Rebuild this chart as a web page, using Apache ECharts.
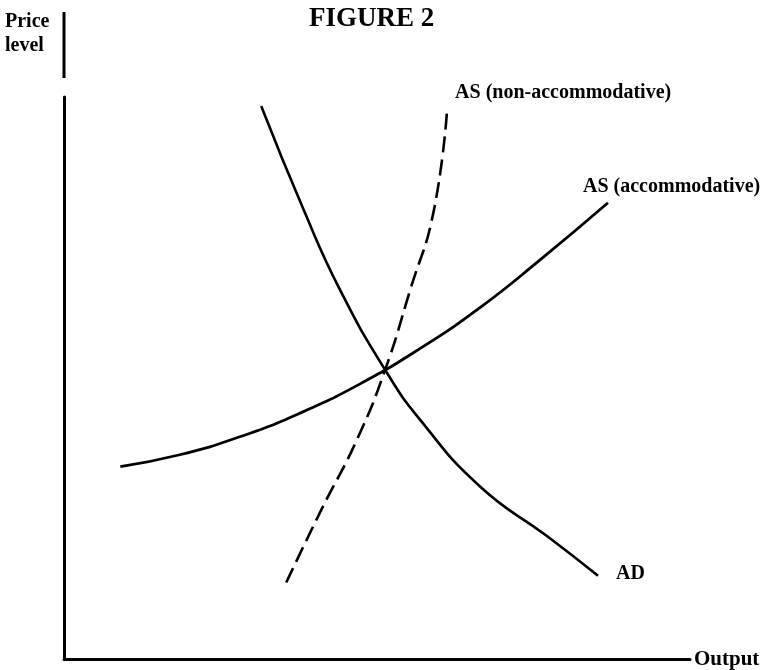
<!DOCTYPE html>
<html>
<head>
<meta charset="utf-8">
<script src="https://cdn.jsdelivr.net/npm/echarts@6/dist/echarts.min.js"></script>
<style>html,body{margin:0;padding:0;background:#fff;}#c{width:764px;height:670px;}</style>
</head>
<body>
<div id="c"></div>
<script>
// Data (output on x, price level on y, arbitrary 0-100 units)
const asAccommodative = [[9,34.3],[18.5,36.4],[28.1,39.6],[37.7,43.8],[47.3,49.0],[56.9,55.3],[66.5,62.6],[76.0,71.0],[86.9,81.2]];
const adCurve = [[31.5,98.4],[38.3,79.9],[44.1,65.7],[51.3,51.5],[56.9,42.6],[66.5,30.7],[77.2,21.9],[85.3,14.9]];
const asNonAccommodative = [[35.5,13.7],[41.1,26.6],[46.8,39.1],[51.3,51.5],[55.3,65.7],[59.0,79.4],[61.2,97.7]];
const seriesNames = ['AS (accommodative)', 'AD', 'AS (non-accommodative)'];
const titleText = 'FIGURE 2';
const xName = 'Output';
const yName = 'Price\nlevel';

const serif = '"Liberation Serif", "DejaVu Serif", serif';
const labelFont = {color: '#000', fontFamily: serif, fontWeight: 'bold', fontSize: 20};
function endLabel(text, offset) {
  return Object.assign({show: true, formatter: text, offset: offset}, labelFont);
}
const chart = echarts.init(document.getElementById('c'));
chart.setOption({
  animation: false,
  backgroundColor: '#fff',
  title: {text: titleText, left: 304, top: 1, textStyle: {fontFamily: serif, fontWeight: 'bold', fontSize: 27, color: '#000'}},
  grid: {left: 64, right: 74, top: 97, bottom: 10},
  xAxis: {type: 'value', min: 0, max: 100, name: xName, nameLocation: 'end', nameGap: 4,
    nameTextStyle: {fontFamily: serif, fontWeight: 'bold', fontSize: 21, color: '#000'},
    axisLine: {show: true, lineStyle: {color: '#000', width: 3}}, axisTick: {show: false}, axisLabel: {show: false}, splitLine: {show: false}},
  yAxis: {type: 'value', min: 0, max: 100,
    axisLine: {show: true, lineStyle: {color: '#000', width: 3}}, axisTick: {show: false}, axisLabel: {show: false}, splitLine: {show: false}},
  graphic: [
    {type: 'text', left: 5, top: 10, style: {text: yName, font: 'bold 20px ' + serif, fill: '#000', lineHeight: 24}},
    {type: 'line', shape: {x1: 64, y1: 12, x2: 64, y2: 78}, style: {stroke: '#000', lineWidth: 3}}
  ],
  series: [
    {name: seriesNames[0], type: 'line', data: asAccommodative, smooth: true, symbol: 'none',
      lineStyle: {color: '#000', width: 2.8}, endLabel: endLabel(seriesNames[0], [-33, -16])},
    {name: seriesNames[1], type: 'line', data: adCurve, smooth: true, symbol: 'none',
      lineStyle: {color: '#000', width: 2.6}, endLabel: endLabel(seriesNames[1], [10, -2])},
    {name: seriesNames[2], type: 'line', data: asNonAccommodative, smooth: true, symbol: 'none',
      lineStyle: {color: '#000', width: 2.6, type: [16, 7]}, endLabel: endLabel(seriesNames[2], [0, -17])}
  ]
});
</script>
</body>
</html>
